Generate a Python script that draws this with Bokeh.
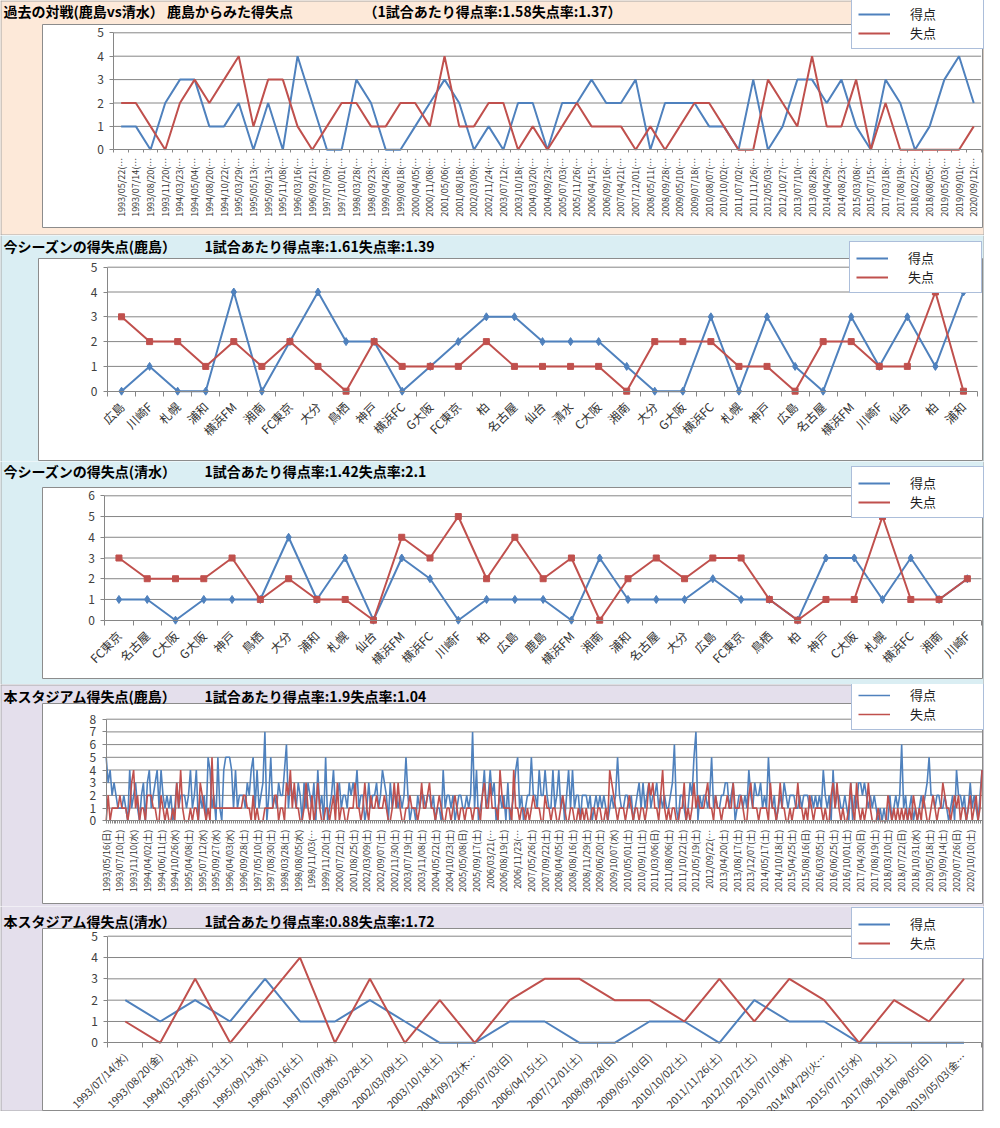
import math
from bokeh.plotting import figure
from bokeh.models import Range1d, FixedTicker, Label, Legend, LegendItem
from bokeh.layouts import column
from bokeh.embed import file_html
from bokeh.resources import INLINE

# ---------------- data ----------------
# Panel 1: past matches (Kashima vs Shimizu), seen from Kashima
p1_dates = ["1993/05/22(…", "1993/07/14(…", "1993/08/20(…", "1993/11/20(…", "1994/03/23(…", "1994/05/04(…",
            "1994/08/20(…", "1994/10/22(…", "1995/03/29(…", "1995/05/13(…", "1995/09/13(…", "1995/11/08(…",
            "1996/03/16(…", "1996/09/21(…", "1997/07/09(…", "1997/10/01(…", "1998/03/28(…", "1998/09/23(…",
            "1999/04/28(…", "1999/08/18(…", "2000/04/05(…", "2000/11/08(…", "2001/05/06(…", "2001/08/18(…",
            "2002/03/09(…", "2002/11/24(…", "2003/07/12(…", "2003/10/18(…", "2004/03/20(…", "2004/09/23(…",
            "2005/07/03(…", "2005/11/26(…", "2006/04/15(…", "2006/09/16(…", "2007/04/21(…", "2007/12/01(…",
            "2008/05/11(…", "2008/09/28(…", "2009/05/10(…", "2009/07/18(…", "2010/08/07(…", "2010/10/02(…",
            "2011/07/02(…", "2011/11/26(…", "2012/05/03(…", "2012/10/27(…", "2013/07/10(…", "2013/08/28(…",
            "2014/04/29(…", "2014/08/23(…", "2015/03/08(…", "2015/07/15(…", "2017/03/18(…", "2017/08/19(…",
            "2018/02/25(…", "2018/08/05(…", "2019/05/03(…", "2019/09/01(…", "2020/09/12(…"]
p1_for = [1, 1, 0, 2, 3, 3, 1, 1, 2, 0, 2, 0, 4, 2, 0, 0, 3, 2, 0, 0, 1, 2, 3, 2, 0, 1,
          0, 2, 2, 0, 2, 2, 3, 2, 2, 3, 0, 2, 2, 2, 1, 1, 0, 3, 0, 1, 3, 3, 2, 3, 1, 0, 3, 2, 0, 1, 3, 4, 2]
p1_against = [2, 2, 1, 0, 2, 3, 2, 3, 4, 1, 3, 3, 1, 0, 1, 2, 2, 1, 1, 2, 2, 1, 4, 1, 1, 2,
              2, 0, 1, 0, 1, 2, 1, 1, 1, 0, 1, 0, 1, 2, 2, 1, 0, 0, 3, 2, 1, 4, 1, 1, 3, 0, 2, 0, 0, 0, 0, 0, 1]

# Panel 2: this season (Kashima)
p2_teams = ["広島", "川崎F", "札幌", "浦和", "横浜FM", "湘南", "FC東京", "大分", "鳥栖", "神戸", "横浜FC",
            "G大阪", "FC東京", "柏", "名古屋", "仙台", "清水", "C大阪", "湘南", "大分", "G大阪", "横浜FC",
            "札幌", "神戸", "広島", "名古屋", "横浜FM", "川崎F", "仙台", "柏", "浦和"]
p2_for = [0, 1, 0, 0, 4, 0, 2, 4, 2, 2, 0, 1, 2, 3, 3, 2, 2, 2, 1, 0, 0, 3, 0, 3, 1, 0, 3, 1, 3, 1, 4]
p2_against = [3, 2, 2, 1, 2, 1, 2, 1, 0, 2, 1, 1, 1, 2, 1, 1, 1, 1, 0, 2, 2, 2, 1, 1, 0, 2, 2, 1, 1, 4, 0]

# Panel 3: this season (Shimizu)
p3_teams = ["FC東京", "名古屋", "C大阪", "G大阪", "神戸", "鳥栖", "大分", "浦和", "札幌", "仙台", "横浜FM",
            "横浜FC", "川崎F", "柏", "広島", "鹿島", "横浜FM", "湘南", "浦和", "名古屋", "大分", "広島",
            "FC東京", "鳥栖", "柏", "神戸", "C大阪", "札幌", "横浜FC", "湘南", "川崎F"]
p3_for = [1, 1, 0, 1, 1, 1, 4, 1, 3, 0, 3, 2, 0, 1, 1, 1, 0, 3, 1, 1, 1, 2, 1, 1, 0, 3, 3, 1, 3, 1, 2]
p3_against = [3, 2, 2, 2, 3, 1, 2, 1, 1, 0, 4, 3, 5, 2, 4, 2, 3, 0, 2, 3, 2, 3, 3, 1, 0, 1, 1, 5, 1, 1, 2]

# Panel 4: this stadium (Kashima), one label every 7 matches
p4_tick_labels = ["1993/05/16(日)", "1993/07/10(土)", "1993/11/10(水)", "1994/04/02(土)", "1994/06/11(土)",
                  "1994/10/26(水)", "1995/04/08(土)", "1995/07/12(水)", "1995/09/27(水)", "1996/04/03(水)",
                  "1996/09/28(土)", "1997/05/10(土)", "1997/08/30(土)", "1998/03/28(土)", "1998/08/05(水)",
                  "1998/11/03(…", "1999/11/20(土)", "2000/07/22(土)", "2001/08/25(土)", "2002/03/09(土)",
                  "2002/09/07(土)", "2002/11/30(土)", "2003/07/19(土)", "2003/11/08(土)", "2004/05/22(土)",
                  "2004/10/23(土)", "2005/05/08(日)", "2005/09/17(土)", "2006/03/21(…", "2006/08/19(土)",
                  "2006/11/23(…", "2007/05/26(土)", "2007/09/22(土)", "2008/04/05(土)", "2008/08/16(土)",
                  "2008/11/29(土)", "2009/06/20(土)", "2009/10/07(水)", "2010/05/01(土)", "2010/09/11(土)",
                  "2011/03/06(日)", "2011/08/06(土)", "2011/10/22(土)", "2012/05/19(土)", "2012/09/22(…",
                  "2013/04/20(土)", "2013/08/17(土)", "2013/12/07(土)", "2014/05/17(土)", "2014/10/18(土)",
                  "2015/04/25(土)", "2015/08/16(日)", "2016/03/05(土)", "2016/06/25(土)", "2016/10/01(土)",
                  "2017/04/30(日)", "2017/08/19(土)", "2018/03/10(土)", "2018/07/22(日)", "2018/10/31(水)",
                  "2019/05/18(土)", "2019/09/14(土)", "2020/07/26(日)", "2020/10/10(土)"]
p4_label_every = 7
p4_for = [
    5, 3, 4, 2, 3, 2, 1, 1, 1, 2, 1, 0, 4, 1, 2, 3, 1, 0, 2, 3, 0, 3, 4, 1, 2, 3, 4, 1,
    4, 2, 1, 2, 1, 2, 0, 1, 3, 1, 2, 2, 2, 1, 2, 4, 1, 2, 4, 0, 2, 1, 2, 0, 5, 4, 1, 2,
    0, 5, 1, 0, 4, 5, 5, 5, 4, 1, 4, 1, 2, 2, 2, 1, 3, 2, 4, 5, 1, 4, 1, 2, 3, 7, 0, 2,
    5, 1, 2, 1, 3, 2, 2, 4, 6, 1, 3, 2, 2, 1, 3, 2, 0, 3, 1, 3, 2, 1, 3, 0, 4, 1, 2, 0,
    5, 0, 1, 2, 4, 1, 2, 3, 1, 2, 2, 1, 3, 2, 3, 2, 4, 1, 2, 2, 0, 1, 3, 1, 2, 2, 3, 1,
    2, 4, 3, 2, 0, 3, 1, 2, 2, 1, 2, 1, 2, 5, 2, 0, 1, 1, 0, 2, 1, 2, 2, 1, 2, 2, 1, 2,
    0, 1, 1, 0, 4, 1, 2, 2, 1, 2, 0, 1, 2, 2, 1, 1, 2, 1, 2, 7, 1, 4, 0, 1, 2, 4, 1, 2,
    4, 2, 3, 0, 1, 2, 1, 2, 0, 3, 0, 1, 2, 4, 5, 1, 2, 0, 1, 2, 2, 5, 2, 2, 1, 4, 2, 2,
    4, 2, 1, 1, 4, 1, 2, 4, 1, 2, 0, 2, 4, 1, 4, 1, 2, 2, 0, 2, 2, 2, 1, 2, 0, 1, 2, 1,
    2, 1, 2, 1, 0, 1, 2, 1, 2, 5, 2, 1, 1, 2, 2, 1, 2, 0, 1, 2, 3, 1, 3, 1, 2, 3, 1, 2,
    2, 3, 1, 2, 1, 2, 1, 1, 2, 3, 6, 1, 0, 2, 2, 1, 0, 1, 3, 2, 5, 7, 0, 2, 1, 2, 2, 1,
    2, 5, 1, 2, 1, 1, 2, 2, 3, 3, 1, 2, 3, 0, 1, 2, 2, 1, 2, 1, 4, 2, 1, 3, 2, 2, 3, 1,
    2, 1, 5, 2, 1, 2, 0, 1, 2, 1, 3, 2, 1, 2, 2, 2, 1, 1, 2, 1, 2, 2, 2, 1, 2, 1, 2, 1,
    2, 1, 4, 2, 1, 2, 0, 4, 1, 2, 2, 1, 1, 2, 1, 0, 3, 0, 2, 1, 3, 3, 2, 3, 2, 1, 2, 1,
    2, 1, 0, 1, 0, 1, 0, 0, 2, 0, 1, 2, 1, 2, 6, 1, 2, 0, 1, 2, 0, 1, 0, 1, 2, 1, 2, 3,
    5, 2, 2, 1, 2, 2, 1, 1, 2, 1, 0, 1, 2, 0, 4, 2, 2, 1, 2, 0, 1, 3, 1, 2, 1, 0, 2, 4]
p4_against = [
    0, 2, 0, 1, 1, 1, 1, 2, 1, 1, 1, 0, 1, 3, 4, 1, 2, 0, 1, 1, 0, 2, 2, 2, 1, 1, 0, 0,
    2, 1, 0, 1, 0, 0, 1, 0, 3, 1, 4, 1, 0, 0, 0, 1, 0, 1, 1, 0, 3, 2, 1, 0, 1, 0, 5, 1,
    1, 1, 1, 1, 1, 1, 1, 1, 1, 1, 1, 1, 1, 1, 2, 2, 1, 1, 0, 2, 0, 1, 0, 0, 0, 1, 1, 1,
    1, 1, 2, 2, 0, 1, 1, 0, 3, 2, 4, 1, 3, 1, 1, 0, 0, 1, 3, 1, 0, 2, 0, 1, 3, 1, 0, 0,
    1, 1, 0, 1, 2, 0, 3, 0, 1, 1, 0, 0, 1, 1, 1, 3, 1, 1, 0, 1, 3, 1, 0, 2, 1, 1, 2, 1,
    1, 1, 2, 1, 0, 0, 1, 3, 1, 3, 1, 0, 0, 1, 1, 2, 1, 1, 1, 0, 1, 3, 1, 1, 2, 3, 1, 1,
    0, 1, 2, 1, 0, 0, 1, 1, 0, 1, 2, 1, 0, 1, 1, 0, 1, 1, 1, 0, 1, 1, 1, 0, 2, 3, 1, 1,
    3, 1, 1, 1, 0, 4, 2, 1, 1, 1, 1, 0, 4, 1, 1, 0, 1, 1, 0, 1, 0, 1, 2, 1, 1, 1, 0, 0,
    2, 1, 1, 0, 1, 1, 0, 0, 1, 2, 1, 0, 0, 1, 1, 0, 0, 1, 0, 1, 0, 1, 0, 0, 1, 1, 0, 1,
    1, 0, 0, 1, 0, 4, 3, 2, 1, 0, 1, 1, 1, 0, 1, 2, 1, 0, 1, 1, 0, 1, 1, 0, 1, 3, 2, 3,
    1, 1, 0, 2, 4, 1, 0, 1, 0, 1, 1, 0, 0, 1, 1, 3, 0, 1, 0, 1, 3, 1, 2, 1, 1, 1, 2, 3,
    1, 1, 0, 2, 1, 1, 0, 1, 1, 2, 1, 1, 3, 1, 1, 1, 2, 1, 0, 0, 2, 3, 1, 1, 1, 0, 1, 1,
    1, 1, 0, 3, 1, 1, 0, 1, 3, 1, 1, 0, 0, 1, 0, 1, 1, 3, 1, 1, 0, 1, 0, 2, 1, 0, 1, 1,
    1, 1, 0, 1, 0, 0, 2, 3, 1, 3, 1, 0, 1, 0, 0, 1, 3, 1, 0, 3, 1, 0, 1, 0, 1, 3, 1, 0,
    0, 0, 1, 0, 0, 0, 0, 2, 1, 0, 1, 0, 1, 0, 1, 0, 1, 0, 1, 0, 2, 1, 0, 1, 0, 2, 1, 0,
    0, 1, 2, 1, 0, 1, 1, 3, 2, 1, 1, 0, 1, 2, 1, 2, 0, 1, 1, 0, 1, 2, 0, 1, 2, 0, 1, 4]

# Panel 5: this stadium (Shimizu)
p5_dates = ["1993/07/14(水)", "1993/08/20(金)", "1994/03/23(水)", "1995/05/13(土)", "1995/09/13(水)",
            "1996/03/16(土)", "1997/07/09(水)", "1998/03/28(土)", "2002/03/09(土)", "2003/10/18(土)",
            "2004/09/23(木…", "2005/07/03(日)", "2006/04/15(土)", "2007/12/01(土)", "2008/09/28(日)",
            "2009/05/10(日)", "2010/10/02(土)", "2011/11/26(土)", "2012/10/27(土)", "2013/07/10(水)",
            "2014/04/29(火…", "2015/07/15(水)", "2017/08/19(土)", "2018/08/05(日)", "2019/05/03(金…"]
p5_for = [2, 1, 2, 1, 3, 1, 1, 2, 1, 0, 0, 1, 1, 0, 0, 1, 1, 0, 2, 1, 1, 0, 0, 0, 0]
p5_against = [1, 0, 3, 0, 2, 4, 0, 3, 0, 2, 0, 2, 3, 3, 2, 2, 1, 3, 1, 3, 2, 0, 2, 1, 3]

series_names = ["得点", "失点"]

# ---------------- style ----------------
FONT = "Noto Sans CJK JP"
BLUE, RED = "#4F81BD", "#C0504D"
GRAY = "#868686"
EDGE = "#A6A6A6"
PEACH, LBLUE, LAVENDER = "#FDE9D9", "#DAEEF3", "#E4DFEC"
W = 984


def panel(H, band, labels, tick_pos, n, gains, losses, ymax, titles, box, xmap, ymap, legend_box,
          angle, lab_size, lab_standoff, minor=None, minor_out=4, markers=False, lw=2.0, edges=()):
    (a0, d0), (a1, d1) = xmap
    y0px, ytpx = ymap

    def X(px):
        return d0 + (px - a0) * (d1 - d0) / (a1 - a0)

    def Y(py):
        return (y0px - py) * ymax / (y0px - ytpx)

    p = figure(width=W, height=H, output_backend="svg", toolbar_location=None,
               x_range=Range1d(X(0), X(W)), y_range=Range1d(Y(H), Y(0)),
               min_border=0)
    p.background_fill_color = band
    p.border_fill_color = band
    p.outline_line_color = None
    p.xgrid.visible = False
    p.ygrid.visible = False

    # band border lines
    ex0, ex1, ey0, ey1 = [], [], [], []
    for e in edges:
        if e == "top":
            ex0.append(X(0)); ex1.append(X(W)); ey0.append(Y(0.5)); ey1.append(Y(0.5))
        elif e == "bottom":
            ex0.append(X(0)); ex1.append(X(W)); ey0.append(Y(H - 0.5)); ey1.append(Y(H - 0.5))
        elif e == "left":
            ex0.append(X(0.5)); ex1.append(X(0.5)); ey0.append(Y(0)); ey1.append(Y(H))
        elif e == "right":
            ex0.append(X(W - 0.5)); ex1.append(X(W - 0.5)); ey0.append(Y(0)); ey1.append(Y(H))
    if ex0:
        p.segment(x0=ex0, y0=ey0, x1=ex1, y1=ey1, line_color=EDGE, line_width=1)

    # white chart area
    p.quad(left=X(box[0]), right=X(box[2]), top=Y(box[1]), bottom=Y(box[3]),
           fill_color="white", line_color="#8C8C8C", line_width=1)
    # horizontal gridlines
    gy = list(range(1, ymax + 1))
    p.segment(x0=[d0] * len(gy), y0=gy, x1=[d1] * len(gy), y1=gy, line_color=GRAY, line_width=1)

    xs = list(range(n))
    rb = p.line(xs, gains, line_color=BLUE, line_width=lw)
    if markers:
        p.scatter(xs, gains, marker="diamond", size=8, color=BLUE)
    rr = p.line(xs, losses, line_color=RED, line_width=lw)
    if markers:
        p.scatter(xs, losses, marker="square", size=6, color=RED)

    # axes
    ya = p.yaxis[0]
    ya.fixed_location = d0
    ya.bounds = (0, ymax)
    ya.ticker = FixedTicker(ticks=list(range(ymax + 1)))
    ya.axis_line_color = GRAY
    ya.major_tick_line_color = GRAY
    ya.major_tick_out = 4
    ya.major_tick_in = 0
    ya.minor_tick_line_color = None
    ya.major_label_text_font = FONT
    ya.major_label_text_font_size = "12px"
    ya.major_label_text_color = "#404040"
    ya.major_label_standoff = 6

    xa = p.xaxis[0]
    xa.fixed_location = 0
    xa.bounds = (d0, d1)
    xa.ticker = FixedTicker(ticks=tick_pos, minor_ticks=minor if minor is not None else [])
    xa.major_label_overrides = {int(t): lab for t, lab in zip(tick_pos, labels)}
    xa.axis_line_color = GRAY
    xa.major_tick_line_color = None
    xa.major_tick_out = 0
    xa.major_tick_in = 0
    xa.minor_tick_line_color = GRAY
    xa.minor_tick_out = minor_out
    xa.minor_tick_in = 0
    xa.major_label_orientation = angle
    xa.major_label_text_font = FONT
    xa.major_label_text_font_size = lab_size
    xa.major_label_text_color = "#333333"
    xa.major_label_standoff = lab_standoff

    for (tx, ty, txt) in titles:
        p.add_layout(Label(x=X(tx), y=Y(ty), text=txt, text_font=FONT, text_font_size="14px",
                           text_font_style="bold", text_color="black", text_baseline="middle"))

    lx0, ly0, lx1, ly1 = legend_box
    leg = Legend(items=[LegendItem(label=series_names[0], renderers=[rb]),
                        LegendItem(label=series_names[1], renderers=[rr])],
                 location=(lx0, H - ly1), orientation="vertical",
                 glyph_width=32, glyph_height=16, label_height=16, label_width=67,
                 label_standoff=20, padding=6, spacing=0, margin=0,
                 label_text_font=FONT, label_text_font_size="13px", label_text_color="#1F1F1F",
                 border_line_color="#5A7DB5", border_line_width=1.5,
                 background_fill_color="white", background_fill_alpha=1.0)
    p.add_layout(leg)
    return p


n1 = len(p1_dates)
f1 = panel(235, PEACH, p1_dates, list(range(n1)), n1, p1_for, p1_against, 5,
           [(3, 10, "過去の対戦(鹿島vs清水）  鹿島からみた得失点"),
            (363, 10, "（1試合あたり得点率:1.58失点率:1.37）")],
           (42, 24, 982, 227), ((113.3, -0.5), (980.6, n1 - 0.5)), (149.3, 32.3),
           (851, 5, 982, 49), math.pi / 2, "9px", 5,
           minor=[i - 0.5 for i in range(n1 + 1)], minor_out=3,
           edges=("top", "bottom", "left", "right"))

n2 = len(p2_teams)
f2 = panel(226, LBLUE, p2_teams, list(range(n2)), n2, p2_for, p2_against, 5,
           [(3, 10, "今シーズンの得失点(鹿島）"), (204, 10, "1試合あたり得点率:1.61失点率:1.39")],
           (38, 23, 982, 225), ((107, -0.5), (977, n2 - 0.5)), (155.7, 31.7),
           (849, 14, 980, 58), math.pi / 4, "12px", 8,
           minor=[i - 0.5 for i in range(n2 + 1)], minor_out=5, markers=True,
           edges=("left", "right"))

n3 = len(p3_teams)
f3 = panel(223, LBLUE, p3_teams, list(range(n3)), n3, p3_for, p3_against, 6,
           [(3, 9, "今シーズンの得失点(清水）"), (204, 9, "1試合あたり得点率:1.42失点率:2.1")],
           (42, 26, 982, 217), ((104.3, -0.5), (981, n3 - 0.5)), (158.7, 34.3),
           (851, 13, 982, 57), math.pi / 4, "12px", 8,
           minor=[i - 0.5 for i in range(n3 + 1)], minor_out=5, markers=True,
           edges=("left", "right"))

n4 = len(p4_for)
p4_ticks = [i * p4_label_every for i in range(len(p4_tick_labels))]
f4 = panel(222, LAVENDER, p4_tick_labels, p4_ticks, n4, p4_for, p4_against, 8,
           [(3, 11, "本スタジアム得失点(鹿島）"), (204, 11, "1試合あたり得点率:1.9失点率:1.04")],
           (42, 19, 982, 219), ((105.7, 0), (981.5, n4 - 1)), (136.3, 34.7),
           (851, 2, 982, 46), math.pi / 2, "9px", 6,
           minor=list(range(n4)), minor_out=3, lw=1.6,
           edges=("top", "left", "right"))

n5 = len(p5_dates)
f5 = panel(205, LAVENDER, p5_dates, list(range(n5)), n5, p5_for, p5_against, 5,
           [(3, 14, "本スタジアム得失点(清水）"), (204, 14, "1試合あたり得点率:0.88失点率:1.72")],
           (42, 22, 982, 204), ((107.3, -0.5), (981, n5 - 0.5)), (136.3, 29.7),
           (851, 9, 982, 53), math.pi / 4, "10.5px", 7,
           minor=[i - 0.5 for i in range(n5 + 1)], minor_out=5,
           edges=("left", "right", "bottom"))

page = column(f1, f2, f3, f4, f5, spacing=0)
open("out.html", "w").write(file_html(page, INLINE))
